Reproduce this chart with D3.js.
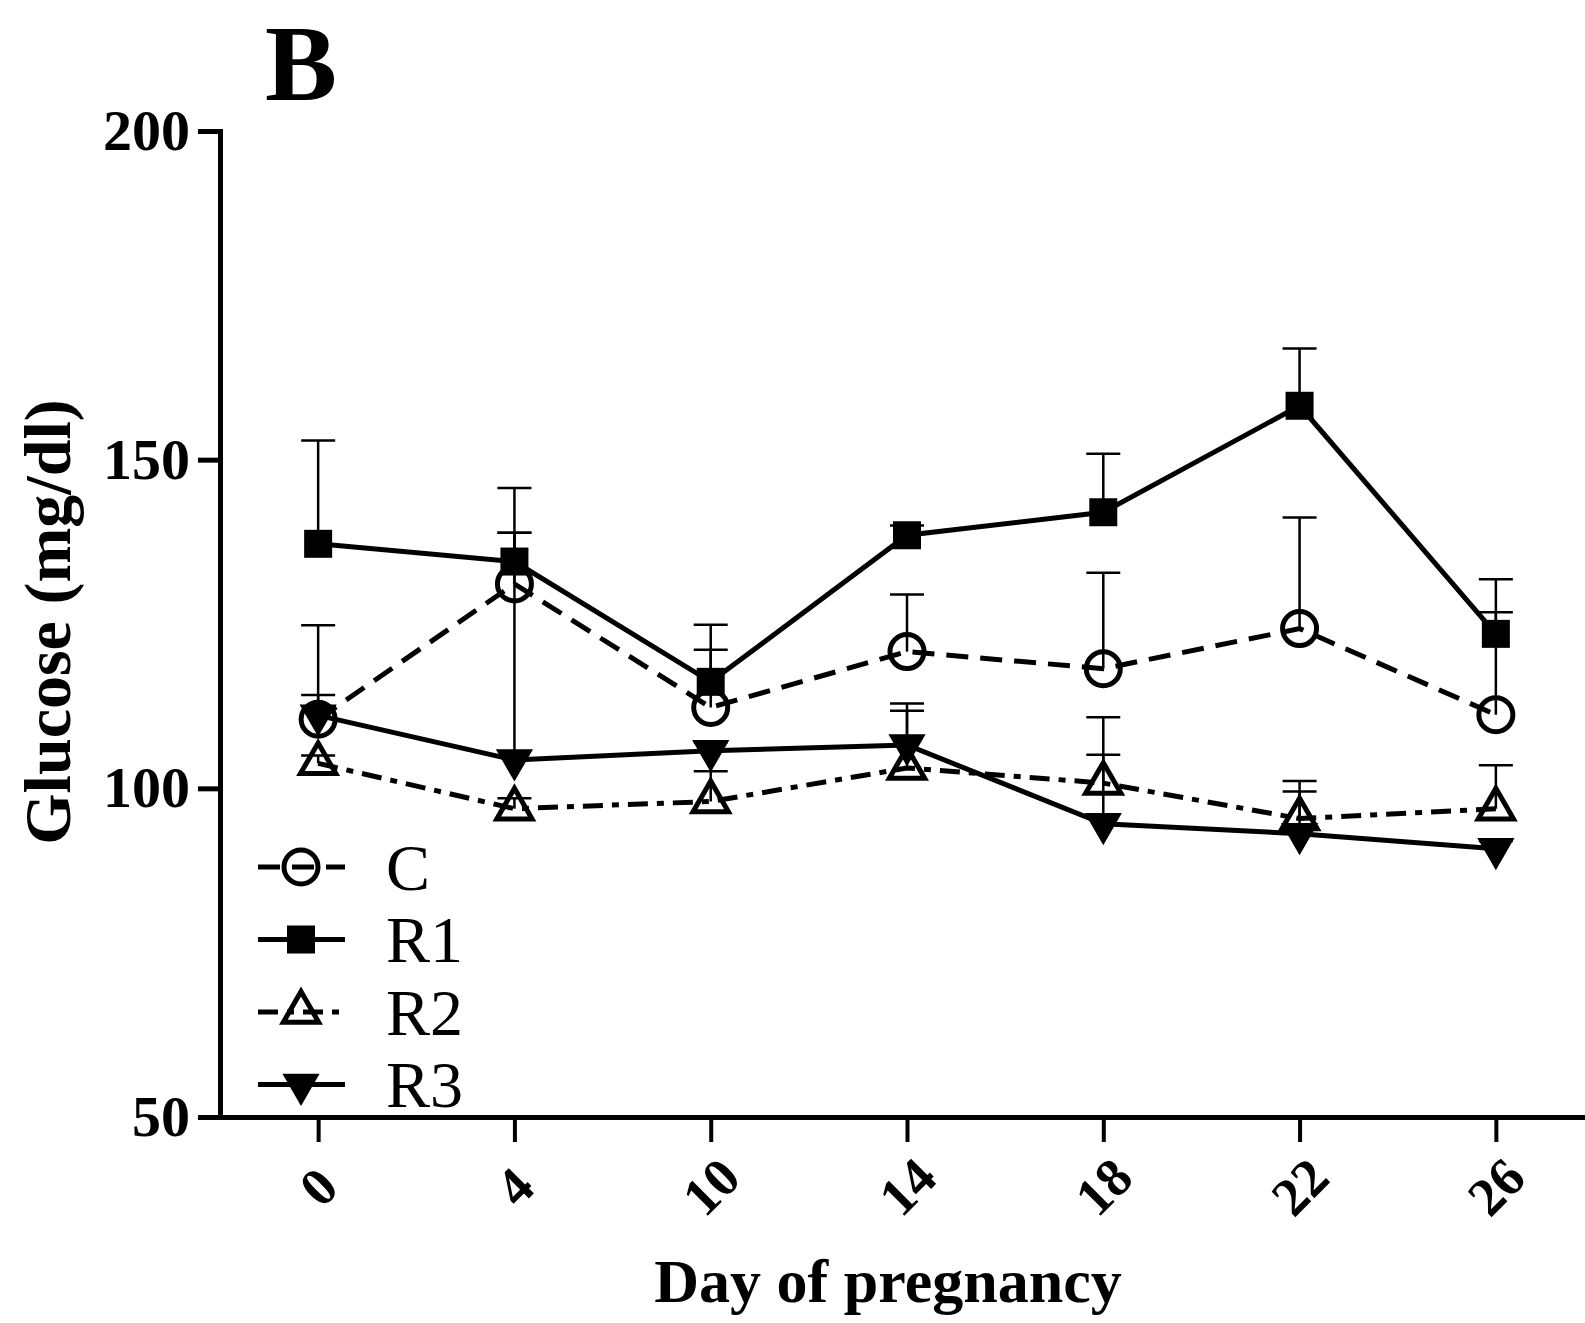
<!DOCTYPE html>
<html>
<head>
<meta charset="utf-8">
<script src="https://cdn.jsdelivr.net/npm/d3@7"></script>
<style>
body { margin: 0; background: #fff; }
text { font-family: "Liberation Serif", "Times New Roman", serif; fill: #000; }
</style>
</head>
<body>
<script>
// data
var days = ["0", "4", "10", "14", "18", "22", "26"];
var groups = ["C", "R1", "R2", "R3"];
var yTicks = [50, 100, 150, 200];

var meanC  = [110.5, 131.1, 112.3, 120.8, 118.2, 124.3, 111.2];
var semC   = [14.3, 7.8, 8.8, 8.7, 14.6, 16.9, 15.6];
var meanR1 = [137.2, 134.5, 116.2, 138.5, 142.0, 158.2, 123.5];
var semR1  = [15.7, 11.2, 8.7, 1.5, 8.9, 8.7, 8.3];
var meanR2 = [103.8, 96.9, 98.0, 103.1, 100.8, 95.4, 96.9];
var semR2  = [1.2, 1.6, 4.6, 8.7, 10.0, 4.1, 6.6];
var meanR3 = [111.1, 104.3, 105.7, 106.6, 94.6, 93.1, 90.8];
var semR3  = [3.1, 34.6, 1.3, 6.3, 10.5, 8.0, 1.2];

var means = [meanC, meanR1, meanR2, meanR3];
var sems = [semC, semR1, semR2, semR3];

// look of each group
var dashes = ["22,12", null, "20,9,7,9", null];
var shapes = ["circle", "square", "triUp", "triDown"];

var width = 1585, height = 1323;

var svg = d3.select("body").append("svg")
    .attr("width", width)
    .attr("height", height);

var x = d3.scalePoint().domain(days).range([220, 1594]).padding(0.5);
var y = d3.scaleLinear().domain([50, 200]).range([1117, 131]);

// panel letter
svg.append("text")
    .attr("x", 265).attr("y", 100)
    .style("font-size", "108px").style("font-weight", "bold")
    .text("B");

// Y axis
svg.append("g")
    .attr("transform", "translate(220,0)")
    .call(d3.axisLeft(y).tickValues(yTicks).tickSize(22).tickSizeOuter(0).tickPadding(8))
    .call(function(g) {
        g.attr("font-size", null).attr("font-family", null);
        g.select(".domain").attr("stroke-width", 5).attr("stroke-linecap", "square");
        g.selectAll(".tick line").attr("stroke-width", 5);
        g.selectAll(".tick text").style("font-size", "58px").style("font-weight", "bold");
    });

// X axis
svg.append("g")
    .attr("transform", "translate(0,1117)")
    .call(d3.axisBottom(x).tickSize(25).tickSizeOuter(0))
    .call(function(g) {
        g.attr("font-size", null).attr("font-family", null);
        g.select(".domain").attr("stroke-width", 5);
        g.selectAll(".tick line").attr("stroke-width", 4);
        g.selectAll(".tick text")
            .attr("y", 0).attr("dy", null)
            .attr("transform", "translate(0,70) rotate(-45)")
            .attr("text-anchor", "middle")
            .attr("dominant-baseline", "central")
            .style("font-size", "54px").style("font-weight", "bold");
    });

// axis titles
svg.append("text")
    .attr("x", 888).attr("y", 1302)
    .attr("text-anchor", "middle")
    .style("font-size", "62px").style("font-weight", "bold")
    .text("Day of pregnancy");

svg.append("text")
    .attr("transform", "translate(70,622) rotate(-90)")
    .attr("text-anchor", "middle")
    .style("font-size", "66px").style("font-weight", "bold")
    .text("Glucose (mg/dl)");

// draw a marker at cx, cy
function marker(g, shape, cx, cy) {
    if (shape == "circle") {
        g.append("circle").attr("cx", cx).attr("cy", cy).attr("r", 17)
            .attr("fill", "none").attr("stroke", "#000").attr("stroke-width", 5);
    } else if (shape == "square") {
        g.append("path")
            .attr("d", d3.symbol().type(d3.symbolSquare).size(28 * 28)())
            .attr("transform", "translate(" + cx + "," + cy + ")")
            .attr("fill", "#000");
    } else if (shape == "triUp") {
        g.append("path")
            .attr("d", d3.symbol().type(d3.symbolTriangle).size(540)())
            .attr("transform", "translate(" + cx + "," + cy + ")")
            .attr("fill", "none").attr("stroke", "#000").attr("stroke-width", 5)
            .attr("stroke-linejoin", "miter");
    } else {
        g.append("path")
            .attr("d", d3.symbol().type(d3.symbolTriangle).size(600)())
            .attr("transform", "translate(" + cx + "," + cy + ") rotate(180)")
            .attr("fill", "#000");
    }
}

var line = d3.line()
    .x(function(d, i) { return x(days[i]); })
    .y(function(d) { return y(d); });

groups.forEach(function(name, k) {
    var g = svg.append("g").attr("class", "series-" + name);
    var m = means[k], s = sems[k];

    // error bars (upper only)
    m.forEach(function(v, i) {
        var cx = x(days[i]);
        g.append("line")
            .attr("x1", cx).attr("x2", cx)
            .attr("y1", y(v)).attr("y2", y(v + s[i]))
            .attr("stroke", "#000").attr("stroke-width", 2.5);
        g.append("line")
            .attr("x1", cx - 17).attr("x2", cx + 17)
            .attr("y1", y(v + s[i])).attr("y2", y(v + s[i]))
            .attr("stroke", "#000").attr("stroke-width", 2.5);
    });

    g.append("path")
        .attr("d", line(m))
        .attr("fill", "none")
        .attr("stroke", "#000")
        .attr("stroke-width", 5)
        .attr("stroke-dasharray", dashes[k]);

    m.forEach(function(v, i) {
        marker(g, shapes[k], x(days[i]), y(v));
    });
});

// legend
var legend = svg.append("g");
groups.forEach(function(name, k) {
    var ly = 867 + k * 72.5;
    legend.append("line")
        .attr("x1", 258).attr("x2", 345)
        .attr("y1", ly).attr("y2", ly)
        .attr("stroke", "#000").attr("stroke-width", 5)
        .attr("stroke-dasharray", dashes[k]);
    marker(legend, shapes[k], 301, ly);
    legend.append("text")
        .attr("x", 386).attr("y", ly)
        .attr("dominant-baseline", "central")
        .style("font-size", "66px")
        .text(name);
});
</script>
</body>
</html>
